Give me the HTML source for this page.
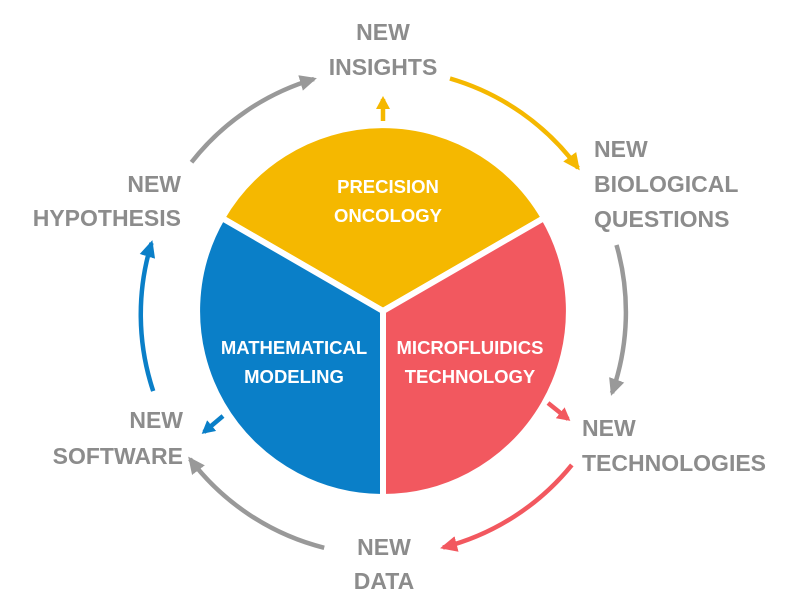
<!DOCTYPE html>
<html><head><meta charset="utf-8"><style>
html,body{margin:0;padding:0;background:#fff;}
svg{display:block}
.g{font-family:"Liberation Sans",sans-serif;font-weight:bold;font-size:23px;fill:#8c8c8c;}
.w{font-family:"Liberation Sans",sans-serif;font-weight:bold;font-size:18.5px;fill:#fff;}
</style></head><body>
<svg width="800" height="611" viewBox="0 0 800 611" xmlns="http://www.w3.org/2000/svg">
<defs>
<marker id="mg" markerWidth="18" markerHeight="18" refX="14" refY="9" orient="auto" markerUnits="userSpaceOnUse"><path d="M0,1 L17,9 L0,17 Z" fill="#999"/></marker>
<marker id="my" markerWidth="18" markerHeight="18" refX="14" refY="9" orient="auto" markerUnits="userSpaceOnUse"><path d="M0,1 L17,9 L0,17 Z" fill="#f5b800"/></marker>
<marker id="mr" markerWidth="18" markerHeight="18" refX="14" refY="9" orient="auto" markerUnits="userSpaceOnUse"><path d="M0,1 L17,9 L0,17 Z" fill="#f2585f"/></marker>
<marker id="mb" markerWidth="18" markerHeight="18" refX="14" refY="9" orient="auto" markerUnits="userSpaceOnUse"><path d="M0,1 L17,9 L0,17 Z" fill="#0a7fc8"/></marker>
<marker id="sy" markerWidth="14" markerHeight="14" refX="10" refY="7" orient="auto" markerUnits="userSpaceOnUse"><path d="M0,0 L13,7 L0,14 Z" fill="#f5b800"/></marker>
<marker id="sr" markerWidth="14" markerHeight="14" refX="10" refY="7" orient="auto" markerUnits="userSpaceOnUse"><path d="M0,0 L13,7 L0,14 Z" fill="#f2585f"/></marker>
<marker id="sb" markerWidth="14" markerHeight="14" refX="10" refY="7" orient="auto" markerUnits="userSpaceOnUse"><path d="M0,0 L13,7 L0,14 Z" fill="#0a7fc8"/></marker>
</defs>
<g stroke="#fff" stroke-width="6" stroke-linejoin="round">
<path d="M383,311 L222,218 A186,186 0 0 1 544,218 Z" fill="#f5b800"/>
<path d="M383,311 L383,497 A186,186 0 0 1 222,218 Z" fill="#0a7fc8"/>
<path d="M383,311 L544,218 A186,186 0 0 1 383,497 Z" fill="#f2585f"/>
</g>
<g fill="none" stroke-width="4.5">
<path d="M191.5,162.3 A243,243 0 0 1 314,79" stroke="#999" marker-end="url(#mg)"/>
<path d="M450,78.5 A243,243 0 0 1 578,168" stroke="#f5b800" marker-end="url(#my)"/>
<path d="M616.5,245 A243,243 0 0 1 612,393" stroke="#999" marker-end="url(#mg)"/>
<path d="M571.8,464.9 A243,243 0 0 1 443,547.5" stroke="#f2585f" marker-end="url(#mr)"/>
<path d="M324.2,547.8 A243,243 0 0 1 190,459" stroke="#999" marker-end="url(#mg)"/>
<path d="M153.2,391.1 A243,243 0 0 1 151.5,243" stroke="#0a7fc8" marker-end="url(#mb)"/>
<path d="M383,121 L383,99" stroke="#f5b800" marker-end="url(#sy)"/>
<path d="M223,416 L204,432" stroke="#0a7fc8" marker-end="url(#sb)"/>
<path d="M548,403 L568,419" stroke="#f2585f" marker-end="url(#sr)"/>
</g>
<g class="g">
<text x="383" y="40" text-anchor="middle">NEW</text>
<text x="383" y="75" text-anchor="middle">INSIGHTS</text>
<text x="594" y="157">NEW</text>
<text x="594" y="192">BIOLOGICAL</text>
<text x="594" y="227">QUESTIONS</text>
<text x="181" y="192" text-anchor="end">NEW</text>
<text x="181" y="226" text-anchor="end">HYPOTHESIS</text>
<text x="183" y="428" text-anchor="end">NEW</text>
<text x="183" y="464" text-anchor="end">SOFTWARE</text>
<text x="582" y="436">NEW</text>
<text x="582" y="471">TECHNOLOGIES</text>
<text x="384" y="555" text-anchor="middle">NEW</text>
<text x="384" y="589" text-anchor="middle">DATA</text>
</g>
<g class="w" text-anchor="middle">
<text x="388" y="193">PRECISION</text>
<text x="388" y="222">ONCOLOGY</text>
<text x="294" y="354">MATHEMATICAL</text>
<text x="294" y="383">MODELING</text>
<text x="470" y="354">MICROFLUIDICS</text>
<text x="470" y="383">TECHNOLOGY</text>
</g>
</svg>
</body></html>
